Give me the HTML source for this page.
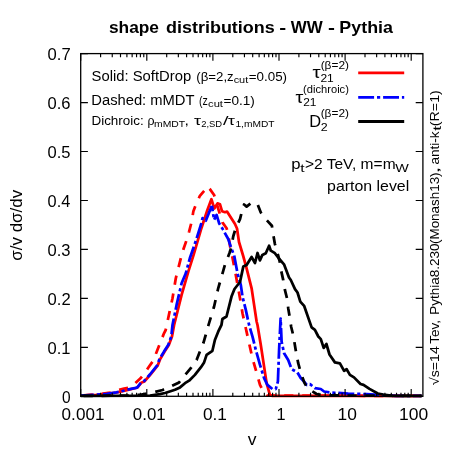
<!DOCTYPE html><html><head><meta charset="utf-8"><style>html,body{margin:0;padding:0;background:#fff}svg{display:block}text{font-family:"Liberation Sans",sans-serif;fill:#000}</style></head><body>
<svg style="will-change:transform" width="451" height="451" viewBox="0 0 451 451">
<rect width="451" height="451" fill="#fff"/>
<path d="M80.7 395.6 L96.2 394.8 L107.0 393.9 L116.6 392.5 L122.6 391.2 L128.8 389.6 L135.8 388.0 L137.5 387.5 L141.2 382.8 L144.3 381.5 L150.2 374.9 L157.6 365.7 L160.2 359.1 L164.6 351.6 L168.8 345.0 L172.0 336.6 L174.1 325.0 L181.6 294.9 L188.3 271.6 L193.6 254.8 L201.4 228.2 L207.4 209.9 L211.4 199.2 L214.3 208.5 L217.5 203.4 L220.0 204.3 L222.0 211.2 L225.0 212.2 L227.0 211.6 L235.0 224.0 L237.0 228.5 L239.0 242.0 L243.2 256.0 L246.6 268.3 L251.6 288.3 L254.1 304.9 L256.6 321.5 L257.5 325.0 L260.8 345.0 L264.1 366.6 L266.6 383.2 L269.9 394.8 L272.0 395.9 L421.6 395.9" stroke="#f00" stroke-width="2.75" fill="none" stroke-linejoin="round"/>
<path d="M80.7 395.6 L100.0 394.0 L110.0 392.5 L117.9 390.2 L124.1 388.5 L128.0 387.8 L133.3 385.0 L140.0 378.8 L144.5 373.5 L148.4 367.5 L153.2 360.8 L157.4 350.0 L164.0 333.3 L165.7 330.0 L167.5 321.5 L172.5 298.2 L175.8 278.3 L180.8 258.3 L183.5 249.0 L186.6 240.0 L189.1 231.6 L191.6 222.0 L193.3 211.6 L195.8 204.9 L199.9 195.8 L204.9 190.0 L207.4 186.4 L209.9 189.1 L214.1 195.0 L218.0 208.0 L222.4 222.4 L226.6 228.2 L228.5 236.0 L230.0 246.0 L232.0 255.0 L235.8 275.0 L240.0 298.2 L242.5 313.2 L245.8 328.2 L249.1 343.3 L252.5 358.3 L255.8 369.9 L260.0 384.9 L264.1 393.2 L266.6 395.5 L421.6 395.9" stroke="#f00" stroke-width="2.75" fill="none" stroke-dasharray="9.2 8.8" stroke-dashoffset="15.0" stroke-linejoin="round"/>
<path d="M80.7 395.6 L96.2 394.7 L107.0 393.8 L116.4 392.3 L122.6 391.0 L128.8 389.4 L135.8 387.9 L137.3 387.4 L141.2 382.4 L144.1 381.0 L149.9 374.5 L157.0 365.7 L159.5 359.1 L164.0 351.6 L168.2 345.0 L171.3 336.6 L172.5 325.0 L176.6 304.9 L181.6 283.3 L185.8 273.3 L189.9 258.0 L192.0 252.0 L196.3 239.5 L201.0 224.5 L202.5 218.2 L205.8 220.7 L209.1 212.4 L211.9 205.8" stroke="#00f" stroke-width="2.75" fill="none" stroke-dasharray="15.9 2.9 3.2 2.9" stroke-dashoffset="2.6" stroke-linejoin="round"/>
<path d="M211.9 205.8 L214.1 219.9 L216.6 214.9 L219.1 223.2 L223.2 229.9 L228.2 239.0 L230.7 246.5 L233.2 253.2 L234.1 255.0 L237.5 273.3 L240.8 284.9 L242.5 296.6 L245.8 309.9 L248.3 321.5 L249.1 325.0 L252.5 336.6 L255.8 349.9 L260.0 364.9 L264.1 378.2 L267.4 384.9 L272.4 389.0 L275.8 389.0 L277.9 381.5 L279.1 349.9 L280.6 318.6 L281.6 341.6 L284.1 353.3 L288.2 359.9 L291.6 369.1 L297.4 372.4 L300.7 378.0 L303.3 380.7 L306.7 384.9 L310.0 384.1 L315.0 388.2 L320.8 389.0 L324.1 391.5 L329.9 392.4 L334.9 392.8 L341.6 393.0 L348.2 393.6 L354.9 393.8 L366.5 394.2 L374.8 394.6 L385.0 395.3 L395.0 395.9 L421.6 395.9" stroke="#00f" stroke-width="2.75" fill="none" stroke-dasharray="15.9 2.9 3.2 2.9" stroke-dashoffset="10.4" stroke-linejoin="round"/>
<path d="M80.7 395.9 L150.0 395.6 L160.0 394.1 L165.0 393.0 L170.5 391.3 L175.0 389.8 L180.0 387.4 L185.0 383.2 L189.1 380.7 L194.9 374.9 L200.8 367.4 L204.1 362.4 L206.6 354.9 L212.4 350.8 L214.9 340.0 L218.2 331.7 L221.5 324.8 L222.4 319.0 L226.5 316.5 L231.5 296.6 L234.5 289.0 L240.0 282.0 L243.3 266.6 L246.6 265.0 L251.6 257.0 L255.0 263.0 L257.5 253.0 L259.9 260.4 L262.4 254.9 L265.8 253.2 L269.1 245.7 L270.8 250.7 L274.9 253.2 L278.5 258.0 L284.0 264.3 L289.0 277.5 L290.8 280.0 L295.0 289.1 L297.5 292.5 L300.3 301.6 L304.1 305.8 L311.6 327.4 L314.9 329.9 L318.3 336.5 L320.8 339.1 L323.7 347.9 L326.4 344.0 L329.5 354.5 L334.9 362.4 L339.9 363.3 L344.1 370.8 L346.6 369.1 L349.9 374.9 L354.0 377.4 L360.5 384.0 L363.5 384.9 L369.5 388.9 L377.8 393.5 L383.3 394.5 L391.0 395.6 L397.0 395.9 L421.6 395.9" stroke="#000" stroke-width="2.75" fill="none" stroke-linejoin="round"/>
<path d="M80.7 395.9 L130.0 395.6 L140.0 394.8 L150.0 393.2 L155.0 392.0 L162.6 390.0 L171.7 386.0 L179.1 382.4 L185.8 374.1 L190.8 368.2 L196.6 359.9 L199.9 351.6 L203.3 343.3 L205.7 335.0 L208.5 325.0 L214.1 306.5 L218.2 288.3 L224.9 265.0 L229.5 253.0 L231.5 246.5 L233.2 236.5 L235.7 228.2 L240.0 219.1 L242.2 210.4 L244.1 204.5 L246.6 206.6 L250.8 203.3 L254.0 202.3 L257.5 204.1 L260.8 212.5 L265.8 219.1 L271.9 225.8 L273.3 234.9 L274.9 244.0 L278.2 255.7 L279.8 262.0 L281.0 270.0 L283.2 279.9 L284.9 289.9 L287.4 299.9 L288.2 308.2 L289.9 318.2 L291.2 327.0 L293.2 335.0 L295.7 349.9 L298.2 363.2 L300.7 372.0 L304.2 382.4 L307.5 388.2 L316.6 394.0 L323.3 395.4 L421.6 395.9" stroke="#000" stroke-width="2.75" fill="none" stroke-dasharray="9.2 8.8" stroke-dashoffset="15.1" stroke-linejoin="round"/>
<path d="M80.70 396.3v-7.2M80.70 53.6v7.2M100.60 396.3v-3.6M100.60 53.6v3.6M112.24 396.3v-3.6M112.24 53.6v3.6M120.50 396.3v-3.6M120.50 53.6v3.6M126.90 396.3v-3.6M126.90 53.6v3.6M132.14 396.3v-3.6M132.14 53.6v3.6M136.56 396.3v-3.6M136.56 53.6v3.6M140.39 396.3v-3.6M140.39 53.6v3.6M143.78 396.3v-3.6M143.78 53.6v3.6M146.80 396.3v-7.2M146.80 53.6v7.2M166.70 396.3v-3.6M166.70 53.6v3.6M178.34 396.3v-3.6M178.34 53.6v3.6M186.60 396.3v-3.6M186.60 53.6v3.6M193.00 396.3v-3.6M193.00 53.6v3.6M198.24 396.3v-3.6M198.24 53.6v3.6M202.66 396.3v-3.6M202.66 53.6v3.6M206.49 396.3v-3.6M206.49 53.6v3.6M209.88 396.3v-3.6M209.88 53.6v3.6M212.90 396.3v-7.2M212.90 53.6v7.2M232.80 396.3v-3.6M232.80 53.6v3.6M244.44 396.3v-3.6M244.44 53.6v3.6M252.70 396.3v-3.6M252.70 53.6v3.6M259.10 396.3v-3.6M259.10 53.6v3.6M264.34 396.3v-3.6M264.34 53.6v3.6M268.76 396.3v-3.6M268.76 53.6v3.6M272.59 396.3v-3.6M272.59 53.6v3.6M275.98 396.3v-3.6M275.98 53.6v3.6M279.00 396.3v-7.2M279.00 53.6v7.2M298.90 396.3v-3.6M298.90 53.6v3.6M310.54 396.3v-3.6M310.54 53.6v3.6M318.80 396.3v-3.6M318.80 53.6v3.6M325.20 396.3v-3.6M325.20 53.6v3.6M330.44 396.3v-3.6M330.44 53.6v3.6M334.86 396.3v-3.6M334.86 53.6v3.6M338.69 396.3v-3.6M338.69 53.6v3.6M342.08 396.3v-3.6M342.08 53.6v3.6M345.10 396.3v-7.2M345.10 53.6v7.2M365.00 396.3v-3.6M365.00 53.6v3.6M376.64 396.3v-3.6M376.64 53.6v3.6M384.90 396.3v-3.6M384.90 53.6v3.6M391.30 396.3v-3.6M391.30 53.6v3.6M396.54 396.3v-3.6M396.54 53.6v3.6M400.96 396.3v-3.6M400.96 53.6v3.6M404.79 396.3v-3.6M404.79 53.6v3.6M408.18 396.3v-3.6M408.18 53.6v3.6M411.20 396.3v-7.2M411.20 53.6v7.2M80.7 396.30h7.2M422.9 396.30h-7.2M80.7 347.34h7.2M422.9 347.34h-7.2M80.7 298.39h7.2M422.9 298.39h-7.2M80.7 249.43h7.2M422.9 249.43h-7.2M80.7 200.47h7.2M422.9 200.47h-7.2M80.7 151.51h7.2M422.9 151.51h-7.2M80.7 102.56h7.2M422.9 102.56h-7.2M80.7 53.60h7.2M422.9 53.60h-7.2" stroke="#000" stroke-width="1.15" fill="none"/>
<rect x="80.7" y="53.6" width="342.2" height="342.7" fill="none" stroke="#000" stroke-width="1.3"/>
<text x="61.98" y="402.60" font-size="15.7" textLength="8.62" lengthAdjust="spacingAndGlyphs">0</text>
<text x="47.54" y="353.64" font-size="15.7" textLength="22.98" lengthAdjust="spacingAndGlyphs">0.1</text>
<text x="47.54" y="304.69" font-size="15.7" textLength="23.12" lengthAdjust="spacingAndGlyphs">0.2</text>
<text x="47.54" y="255.73" font-size="15.7" textLength="22.98" lengthAdjust="spacingAndGlyphs">0.3</text>
<text x="47.55" y="206.77" font-size="15.7" textLength="22.71" lengthAdjust="spacingAndGlyphs">0.4</text>
<text x="47.54" y="157.81" font-size="15.7" textLength="22.98" lengthAdjust="spacingAndGlyphs">0.5</text>
<text x="47.54" y="108.86" font-size="15.7" textLength="22.98" lengthAdjust="spacingAndGlyphs">0.6</text>
<text x="47.54" y="59.90" font-size="15.7" textLength="23.12" lengthAdjust="spacingAndGlyphs">0.7</text>
<text x="61.62" y="420.10" font-size="15.7" textLength="42.82" lengthAdjust="spacingAndGlyphs">0.001</text>
<text x="132.83" y="420.10" font-size="15.7" textLength="32.83" lengthAdjust="spacingAndGlyphs">0.01</text>
<text x="202.91" y="420.10" font-size="15.7" textLength="24.05" lengthAdjust="spacingAndGlyphs">0.1</text>
<text x="276.40" y="420.10" font-size="15.7" textLength="9.06" lengthAdjust="spacingAndGlyphs">1</text>
<text x="337.62" y="420.10" font-size="15.7" textLength="19.32" lengthAdjust="spacingAndGlyphs">10</text>
<text x="399.01" y="420.10" font-size="15.7" textLength="29.16" lengthAdjust="spacingAndGlyphs">100</text>
<text x="108.91" y="33.00" font-size="15.7" textLength="50.11" lengthAdjust="spacingAndGlyphs" font-weight="bold">shape</text>
<text x="165.98" y="33.00" font-size="15.7" textLength="108.83" lengthAdjust="spacingAndGlyphs" font-weight="bold">distributions</text>
<text x="279.37" y="33.00" font-size="15.7" textLength="6.94" lengthAdjust="spacingAndGlyphs" font-weight="bold">-</text>
<text x="290.80" y="33.00" font-size="15.7" textLength="31.90" lengthAdjust="spacingAndGlyphs" font-weight="bold">WW</text>
<text x="327.97" y="33.00" font-size="15.7" textLength="6.94" lengthAdjust="spacingAndGlyphs" font-weight="bold">-</text>
<text x="339.36" y="33.00" font-size="15.7" textLength="53.58" lengthAdjust="spacingAndGlyphs" font-weight="bold">Pythia</text>
<text x="247.76" y="445.00" font-size="15.7" textLength="8.74" lengthAdjust="spacingAndGlyphs">v</text>
<g transform="translate(22,260) rotate(-90)">
<text x="-0.67" y="0.00" font-size="15.7" textLength="70.76" lengthAdjust="spacingAndGlyphs">σ/v dσ/dv</text>
</g>
<g transform="translate(439.1,385.1) rotate(-90)">
<text x="-0.30" y="0.00" font-size="12.6" textLength="8.36" lengthAdjust="spacingAndGlyphs">√</text>
<text x="7.78" y="0.00" font-size="12.6" textLength="31.20" lengthAdjust="spacingAndGlyphs">s=14</text>
<text x="41.43" y="0.00" font-size="12.6" textLength="23.72" lengthAdjust="spacingAndGlyphs">Tev,</text>
<text x="70.33" y="0.00" font-size="12.6" textLength="71.24" lengthAdjust="spacingAndGlyphs">Pythia8.230</text>
<text x="141.10" y="0.00" font-size="12.6" textLength="71.58" lengthAdjust="spacingAndGlyphs">(Monash13)</text>
<text x="211.26" y="0.00" font-size="12.6" textLength="7.28" lengthAdjust="spacingAndGlyphs">,</text>
<text x="220.56" y="0.00" font-size="12.6" textLength="33.09" lengthAdjust="spacingAndGlyphs">anti-k</text>
<text x="254.48" y="1.80" font-size="10.1" textLength="4.93" lengthAdjust="spacingAndGlyphs">t</text>
<text x="258.95" y="0.00" font-size="12.6" textLength="35.96" lengthAdjust="spacingAndGlyphs">(R=1)</text>
</g>
<text x="91.54" y="80.60" font-size="14.0" textLength="99.64" lengthAdjust="spacingAndGlyphs">Solid: SoftDrop</text>
<text x="196.27" y="80.60" font-size="11.9" textLength="37.41" lengthAdjust="spacingAndGlyphs">(β=2,z</text>
<text x="233.67" y="82.80" font-size="9.5" textLength="14.60" lengthAdjust="spacingAndGlyphs">cut</text>
<text x="248.80" y="80.60" font-size="11.9" textLength="38.26" lengthAdjust="spacingAndGlyphs">=0.05)</text>
<text x="91.32" y="104.70" font-size="14.0" textLength="103.18" lengthAdjust="spacingAndGlyphs">Dashed: mMDT</text>
<text x="199.03" y="104.90" font-size="11.9" textLength="8.84" lengthAdjust="spacingAndGlyphs">(z</text>
<text x="208.06" y="107.00" font-size="9.5" textLength="14.91" lengthAdjust="spacingAndGlyphs">cut</text>
<text x="223.59" y="104.90" font-size="11.9" textLength="31.30" lengthAdjust="spacingAndGlyphs">=0.1)</text>
<text x="91.47" y="124.50" font-size="11.9" textLength="52.22" lengthAdjust="spacingAndGlyphs">Dichroic:</text>
<text x="147.52" y="124.50" font-size="11.9" textLength="7.01" lengthAdjust="spacingAndGlyphs">ρ</text>
<text x="154.02" y="127.00" font-size="9.5" textLength="31.05" lengthAdjust="spacingAndGlyphs">mMDT</text>
<text x="184.50" y="124.50" font-size="11.9" textLength="4.42" lengthAdjust="spacingAndGlyphs">,</text>
<text x="193.91" y="124.50" font-size="11.9" textLength="7.11" lengthAdjust="spacingAndGlyphs">τ</text>
<text x="201.21" y="127.00" font-size="9.5" textLength="20.89" lengthAdjust="spacingAndGlyphs">2,SD</text>
<text x="222.90" y="124.50" font-size="11.9" textLength="5.50" lengthAdjust="spacingAndGlyphs">/</text>
<text x="228.12" y="124.50" font-size="11.9" textLength="6.90" lengthAdjust="spacingAndGlyphs">τ</text>
<text x="235.40" y="127.00" font-size="9.5" textLength="39.09" lengthAdjust="spacingAndGlyphs">1,mMDT</text>
<text x="312.47" y="78.20" font-size="15.7" textLength="8.13" lengthAdjust="spacingAndGlyphs">τ</text>
<text x="320.40" y="81.60" font-size="10.1" textLength="13.37" lengthAdjust="spacingAndGlyphs">21</text>
<text x="320.66" y="68.60" font-size="10.1" textLength="28.33" lengthAdjust="spacingAndGlyphs">(β=2)</text>
<text x="295.49" y="103.00" font-size="15.7" textLength="7.81" lengthAdjust="spacingAndGlyphs">τ</text>
<text x="303.21" y="106.20" font-size="10.1" textLength="13.26" lengthAdjust="spacingAndGlyphs">21</text>
<text x="303.11" y="92.60" font-size="10.1" textLength="45.80" lengthAdjust="spacingAndGlyphs">(dichroic)</text>
<text x="309.39" y="127.20" font-size="15.7" textLength="11.86" lengthAdjust="spacingAndGlyphs">D</text>
<text x="320.78" y="130.60" font-size="10.1" textLength="6.93" lengthAdjust="spacingAndGlyphs">2</text>
<text x="320.66" y="117.00" font-size="10.1" textLength="28.33" lengthAdjust="spacingAndGlyphs">(β=2)</text>
<text x="291.36" y="169.20" font-size="14.0" textLength="9.30" lengthAdjust="spacingAndGlyphs">p</text>
<text x="300.23" y="171.90" font-size="11.2" textLength="4.33" lengthAdjust="spacingAndGlyphs">t</text>
<text x="304.91" y="169.20" font-size="14.0" textLength="90.67" lengthAdjust="spacingAndGlyphs">&gt;2 TeV, m=m</text>
<text x="395.34" y="172.10" font-size="11.2" textLength="13.54" lengthAdjust="spacingAndGlyphs">W</text>
<text x="327.11" y="191.00" font-size="14.0" textLength="82.10" lengthAdjust="spacingAndGlyphs">parton level</text>
<path d="M358.2 72.8H404.2" stroke="#f00" stroke-width="2.8" fill="none"/>
<path d="M358.2 97.35H404.2" stroke="#00f" stroke-width="2.8" fill="none" stroke-dasharray="15.9 2.9 3.2 2.9"/>
<path d="M358.2 121.5H404.2" stroke="#000" stroke-width="2.8" fill="none"/>
</svg></body></html>
